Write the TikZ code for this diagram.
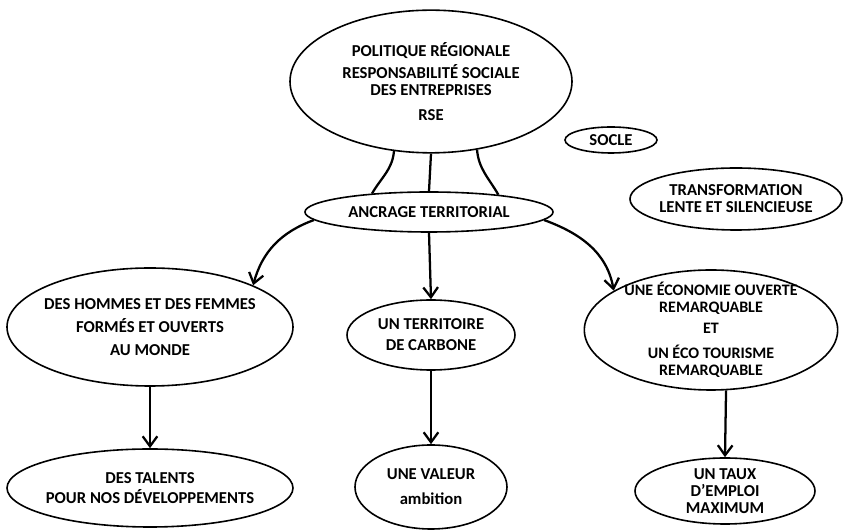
\documentclass[tikz,border=0pt]{standalone}
\usepackage{fontspec}
\setmainfont{Carlito}
\usetikzlibrary{shapes.geometric,arrows.meta}
\begin{document}
\begin{tikzpicture}[x=0.75pt,y=-0.75pt]
			\useasboundingbox (0,0) rectangle (844,530);
			
			\tikzstyle{myoval}=[ellipse,
			draw=black,
			line width=1.2pt,
			inner xsep=-45pt,
			inner ysep=-25pt,
			align=center,
			font=\fontsize{12.5}{12.75}\selectfont\bfseries
			]
			\tikzstyle{myline}=[line width=1.7pt]
			\tikzstyle{myarrow}=[line width=1.7pt, -{Straight Barb[length=7.5pt,width=11pt]}]
			
			\coordinate (pp) at (431, 81.5);
			\coordinate (ps) at (611, 140);
			\coordinate (pt) at (736, 199);
			\coordinate (pa) at (429, 212);
			
			\coordinate (ph) at (150, 327);
			\coordinate (pc) at (431, 335);
			\coordinate (pe) at (711, 330);
			
			\node[myoval, minimum width=211.5pt, minimum height=107pt] (politique) at (pp)
			{POLITIQUE RÉGIONALE\\[3.75pt] RESPONSABILITÉ SOCIALE\\ DES ENTREPRISES\\[6pt] RSE};
			\node[myoval, minimum width=69pt, minimum height=19.5pt] (socle) at (ps) {SOCLE};
			\node[myoval, minimum width=159pt, minimum height=46.5pt] (transfo) at (pt)
			{TRANSFORMATION\\ LENTE ET SILENCIEUSE};
			\node[myoval, minimum width=186pt, minimum height=30pt] (ancrage) at (pa) {ANCRAGE TERRITORIAL};
			
			\node[myoval, minimum width=214.5pt, minimum height=88.5pt] (hommes) at (ph)
			{DES HOMMES ET DES FEMMES\\[4.5pt] FORMÉS ET OUVERTS\\[4.5pt] AU MONDE};
			\node[myoval, minimum width=126pt, minimum height=52.5pt] (carbone) at (pc)
			{UN TERRITOIRE\\[3pt] DE CARBONE};
			\node[myoval, minimum width=190pt, minimum height=90pt,
			font=\fontsize{12}{12.75}\selectfont\bfseries] (economie) at (pe)
			{UNE ÉCONOMIE OUVERTE\\ REMARQUABLE\\[3pt] ET\\[6pt] UN ÉCO TOURISME\\ REMARQUABLE};
			
			\coordinate (pd) at (150, 488);
			\coordinate (pv) at (431, 487);
			\coordinate (pm) at (725, 491);
			
			\node[myoval, minimum width=214.5pt, minimum height=58.5pt] (talents) at (pd)
			{DES TALENTS\\[2.25pt] POUR NOS DÉVELOPPEMENTS};
			\node[myoval, minimum width=114pt, minimum height=63pt] (valeur) at (pv)
			{UNE VALEUR\\[6pt] ambition};
			\node[myoval, minimum width=135pt, minimum height=49.5pt] (taux) at (pm)
			{UN TAUX\\ D’EMPLOI\\ MAXIMUM};
			
			\draw[myline] (politique.-118) to[out=-95, in=60] (ancrage.162);
			\draw[myline] (politique.south) -- (ancrage.north);
			\draw[myline] (politique.-56) to[out=-85, in=120] (ancrage.14);
			
			\draw[myarrow] (ancrage.184) to[out=200, in=75] (hommes.22);
			\draw[myarrow] (ancrage.-4) to[out=-20, in=100] (economie.158);
			\draw[myarrow] (ancrage.south) -- (carbone.north);
			
			\draw[myarrow] (hommes.south) -- (talents.north);
			\draw[myarrow] (carbone.south) -- (valeur.north);
			\draw[myarrow] (economie.-76) -- (taux.north);
			
\end{tikzpicture}
\end{document}
